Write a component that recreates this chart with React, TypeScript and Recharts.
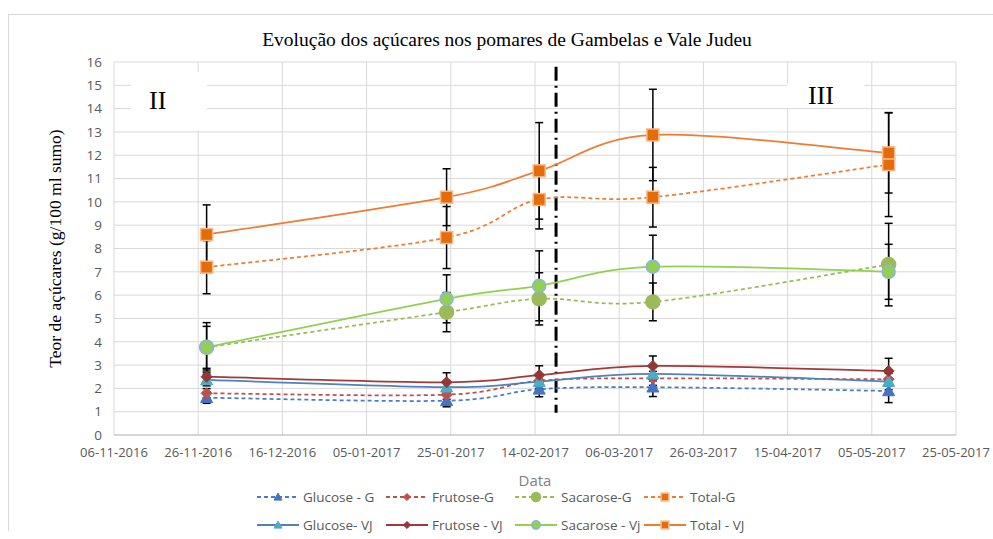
import React from 'react';
import { LineChart, Line, XAxis, YAxis, CartesianGrid, ErrorBar, ReferenceLine } from 'recharts';

const day = (d: number, m: number, y: number) => Date.UTC(y, m - 1, d);

// sampling dates and axis ticks
const sampleDates = [day(28, 11, 2016), day(24, 1, 2017), day(15, 2, 2017), day(14, 3, 2017), day(9, 5, 2017)];
const xTicks = [
  day(6, 11, 2016), day(26, 11, 2016), day(16, 12, 2016), day(5, 1, 2017), day(25, 1, 2017), day(14, 2, 2017),
  day(6, 3, 2017), day(26, 3, 2017), day(15, 4, 2017), day(5, 5, 2017), day(25, 5, 2017),
];
const yTicks = [0, 1, 2, 3, 4, 5, 6, 7, 8, 9, 10, 11, 12, 13, 14, 15, 16];
const separatorDate = day(19, 2, 2017);

// Gambelas (G)
const glucoseG = [1.6, 1.47, 1.96, 2.05, 1.89];
const glucoseGErr = [0.24, 0.26, 0.32, 0.4, 0.5];
const frutoseG = [1.79, 1.73, 2.33, 2.43, 2.39];
const frutoseGErr = [0.2, 0.2, 0.25, 0.3, 0.3];
const sacaroseG = [3.76, 5.27, 5.84, 5.71, 7.31];
const sacaroseGErr = [0.9, 0.84, 1.12, 0.81, 1.77];
const totalG = [7.2, 8.47, 10.1, 10.2, 11.6];
const totalGErr = [1.14, 1.33, 1.26, 1.28, 2.23];

// Vale Judeu (VJ)
const glucoseVJ = [2.36, 2.05, 2.29, 2.62, 2.29];
const glucoseVJErr = [0.25, 0.25, 0.3, 0.3, 0.35];
const frutoseVJ = [2.5, 2.26, 2.57, 2.96, 2.75];
const frutoseVJErr = [0.29, 0.41, 0.4, 0.43, 0.54];
const sacaroseVJ = [3.76, 5.84, 6.4, 7.22, 7.0];
const sacaroseVJErr = [1.06, 1.03, 1.5, 1.35, 1.18];
const totalVJ = [8.6, 10.2, 11.33, 12.87, 12.1];
const totalVJErr = [1.27, 1.22, 2.07, 1.96, 1.72];

const data = sampleDates.map((date, i) => ({
  date,
  glucoseG: glucoseG[i], glucoseGErr: glucoseGErr[i],
  frutoseG: frutoseG[i], frutoseGErr: frutoseGErr[i],
  sacaroseG: sacaroseG[i], sacaroseGErr: sacaroseGErr[i],
  totalG: totalG[i], totalGErr: totalGErr[i],
  glucoseVJ: glucoseVJ[i], glucoseVJErr: glucoseVJErr[i],
  frutoseVJ: frutoseVJ[i], frutoseVJErr: frutoseVJErr[i],
  sacaroseVJ: sacaroseVJ[i], sacaroseVJErr: sacaroseVJErr[i],
  totalVJ: totalVJ[i], totalVJErr: totalVJErr[i],
}));

type MarkerKind = 'triangle' | 'diamond' | 'circle' | 'square';

interface Series {
  key: string;
  name: string;
  color: string;
  dashed: boolean;
  marker: MarkerKind;
  fill: string;
  stroke: string;
  size: number;
}

const series: Series[] = [
  { key: 'glucoseG', name: 'Glucose - G', color: '#4A7CC9', dashed: true, marker: 'triangle', fill: '#4472C4', stroke: '#4472C4', size: 6 },
  { key: 'frutoseG', name: 'Frutose-G', color: '#C0504D', dashed: true, marker: 'diamond', fill: '#C0504D', stroke: '#C0504D', size: 5.5 },
  { key: 'sacaroseG', name: 'Sacarose-G', color: '#9BBB59', dashed: true, marker: 'circle', fill: '#9BBB59', stroke: '#9BBB59', size: 7 },
  { key: 'totalG', name: 'Total-G', color: '#ED7D31', dashed: true, marker: 'square', fill: '#E46C0A', stroke: '#F8B98A', size: 6 },
  { key: 'glucoseVJ', name: 'Glucose- VJ', color: '#4F81BD', dashed: false, marker: 'triangle', fill: '#4BACC6', stroke: '#4BACC6', size: 6 },
  { key: 'frutoseVJ', name: 'Frutose - VJ', color: '#A33A3A', dashed: false, marker: 'diamond', fill: '#953735', stroke: '#953735', size: 5.5 },
  { key: 'sacaroseVJ', name: 'Sacarose - Vj', color: '#92D050', dashed: false, marker: 'circle', fill: '#92D050', stroke: '#8DB4E2', size: 6.5 },
  { key: 'totalVJ', name: 'Total - VJ', color: '#ED7D31', dashed: false, marker: 'square', fill: '#E46C0A', stroke: '#F8B98A', size: 6 },
];

// Excel-like smoothing (Catmull-Rom through each point)
const smoothCurve = (context: any) => {
  let pts: number[][] = [];
  return {
    areaStart() {},
    areaEnd() {},
    lineStart() { pts = []; },
    point(x: number, y: number) { pts.push([+x, +y]); },
    lineEnd() {
      if (!pts.length) return;
      context.moveTo(pts[0][0], pts[0][1]);
      for (let i = 0; i < pts.length - 1; i++) {
        const p0 = pts[i - 1] || pts[i];
        const p1 = pts[i];
        const p2 = pts[i + 1];
        const p3 = pts[i + 2] || p2;
        context.bezierCurveTo(
          p1[0] + (p2[0] - p0[0]) / 6, p1[1] + (p2[1] - p0[1]) / 6,
          p2[0] - (p3[0] - p1[0]) / 6, p2[1] - (p3[1] - p1[1]) / 6,
          p2[0], p2[1],
        );
      }
    },
  };
};

const Marker = ({ kind, cx, cy, fill, stroke, size }: { kind: MarkerKind; cx: number; cy: number; fill: string; stroke: string; size: number }) => {
  if (kind === 'triangle') {
    return <polygon points={`${cx},${cy - size} ${cx - size},${cy + size * 0.8} ${cx + size},${cy + size * 0.8}`} fill={fill} stroke={stroke} strokeWidth={1} />;
  }
  if (kind === 'diamond') {
    return <polygon points={`${cx},${cy - size} ${cx + size},${cy} ${cx},${cy + size} ${cx - size},${cy}`} fill={fill} stroke={stroke} strokeWidth={1} />;
  }
  if (kind === 'circle') {
    return <circle cx={cx} cy={cy} r={size} fill={fill} stroke={stroke} strokeWidth={1.5} />;
  }
  return <rect x={cx - size} y={cy - size} width={size * 2} height={size * 2} fill={fill} stroke={stroke} strokeWidth={1.5} />;
};

const renderDot = (s: Series) => (props: any) => {
  const { cx, cy, index } = props;
  return (
    <g key={`${s.key}-${index}`}>
      <Marker kind={s.marker} cx={cx} cy={cy} fill={s.fill} stroke={s.stroke} size={s.size} />
    </g>
  );
};

const formatDate = (t: number) => {
  const d = new Date(t);
  const dd = String(d.getUTCDate()).padStart(2, '0');
  const mm = String(d.getUTCMonth() + 1).padStart(2, '0');
  return `${dd}-${mm}-${d.getUTCFullYear()}`;
};

const LegendItem = ({ s }: { s: Series }) => (
  <div style={{ display: 'flex', alignItems: 'center', width: 129 }}>
    <svg width={44} height={16}>
      <line x1={1} y1={8} x2={43} y2={8} stroke={s.color} strokeWidth={2} strokeDasharray={s.dashed ? '4 3' : undefined} />
      <Marker kind={s.marker} cx={22} cy={8} fill={s.fill} stroke={s.stroke} size={s.size * 0.65} />
    </svg>
    <span style={{ marginLeft: 3, whiteSpace: 'nowrap' }}>{s.name}</span>
  </div>
);

const App: React.FC = () => {
  const labelBox: React.CSSProperties = {
    position: 'absolute',
    background: '#fff',
    fontFamily: '"Liberation Serif", "Times New Roman", serif',
    fontSize: 26,
    color: '#000',
    display: 'flex',
    alignItems: 'center',
  };

  return (
    <div
      style={{
        position: 'absolute',
        left: 8,
        top: 14,
        width: 985,
        height: 517,
        boxSizing: 'border-box',
        borderLeft: '1px solid #d9d9d9',
        borderTop: '1px solid #d9d9d9',
        fontFamily: '"Open Sans", sans-serif',
      }}
    >
      <style>{'body { margin: 0; overflow: hidden; } .recharts-surface { overflow: visible; }'}</style>
      <LineChart width={984} height={516} data={data} margin={{ top: 47, right: 37, bottom: 36, left: 0 }}>
        <CartesianGrid stroke="#d9d9d9" strokeWidth={1} />
        <XAxis
          dataKey="date"
          type="number"
          domain={[xTicks[0], xTicks[xTicks.length - 1]]}
          ticks={xTicks}
          tickFormatter={formatDate}
          interval={0}
          height={60}
          tickLine={false}
          tickSize={6}
          tickMargin={7}
          axisLine={{ stroke: '#bfbfbf' }}
          tick={{ fill: '#595959', fontSize: 13, fontFamily: '"Open Sans", sans-serif' }}
          label={{ value: 'Data', position: 'insideBottom', offset: 9, fill: '#7f7f7f', fontSize: 15, fontFamily: '"Open Sans", sans-serif' }}
        />
        <YAxis
          type="number"
          domain={[0, 16]}
          ticks={yTicks}
          interval={0}
          width={105}
          tickLine={false}
          axisLine={false}
          tickSize={6}
          tickMargin={6}
          tick={{ fill: '#595959', fontSize: 13.5, fontFamily: '"Open Sans", sans-serif' }}
          label={{
            value: 'Teor de açúcares (g/100 ml sumo)',
            angle: -90,
            position: 'insideLeft',
            offset: 46,
            fill: '#000',
            fontSize: 17.5,
            fontFamily: '"Liberation Serif", "Times New Roman", serif',
            style: { textAnchor: 'middle' },
          }}
        />
        <ReferenceLine
          segment={[{ x: separatorDate, y: 15.8 }, { x: separatorDate, y: 0.95 }]}
          stroke="#000"
          strokeWidth={3}
          strokeDasharray="14 5 2 5"
        />
        {series.map((s) => (
          <Line
            key={s.key}
            dataKey={s.key}
            name={s.name}
            type={smoothCurve as any}
            stroke={s.color}
            strokeWidth={1.75}
            strokeDasharray={s.dashed ? '4 3' : undefined}
            dot={renderDot(s)}
            activeDot={false}
            isAnimationActive={false}
          >
            <ErrorBar dataKey={`${s.key}Err`} direction="y" width={4} stroke="#000" strokeWidth={1.5} isAnimationActive={false} />
          </Line>
        ))}
      </LineChart>

      <div
        style={{
          position: 'absolute',
          left: 0,
          top: 14,
          width: 996,
          textAlign: 'center',
          fontFamily: '"Liberation Serif", "Times New Roman", serif',
          fontSize: 19.5,
          lineHeight: '22px',
          color: '#000',
        }}
      >
        Evolução dos açúcares nos pomares de Gambelas e Vale Judeu
      </div>

      <div style={{ ...labelBox, left: 122, top: 57, width: 76, height: 58, paddingLeft: 18, boxSizing: 'border-box' }}>II</div>
      <div style={{ ...labelBox, left: 778, top: 69, width: 77, height: 24, paddingLeft: 21, boxSizing: 'border-box' }}>III</div>

      <div style={{ position: 'absolute', left: 247, top: 474, fontSize: 13.5, color: '#595959', lineHeight: '16px' }}>
        <div style={{ display: 'flex' }}>
          {series.slice(0, 4).map((s) => <LegendItem key={s.key} s={s} />)}
        </div>
        <div style={{ display: 'flex', marginTop: 12 }}>
          {series.slice(4).map((s) => <LegendItem key={s.key} s={s} />)}
        </div>
      </div>
    </div>
  );
};

export default App;
